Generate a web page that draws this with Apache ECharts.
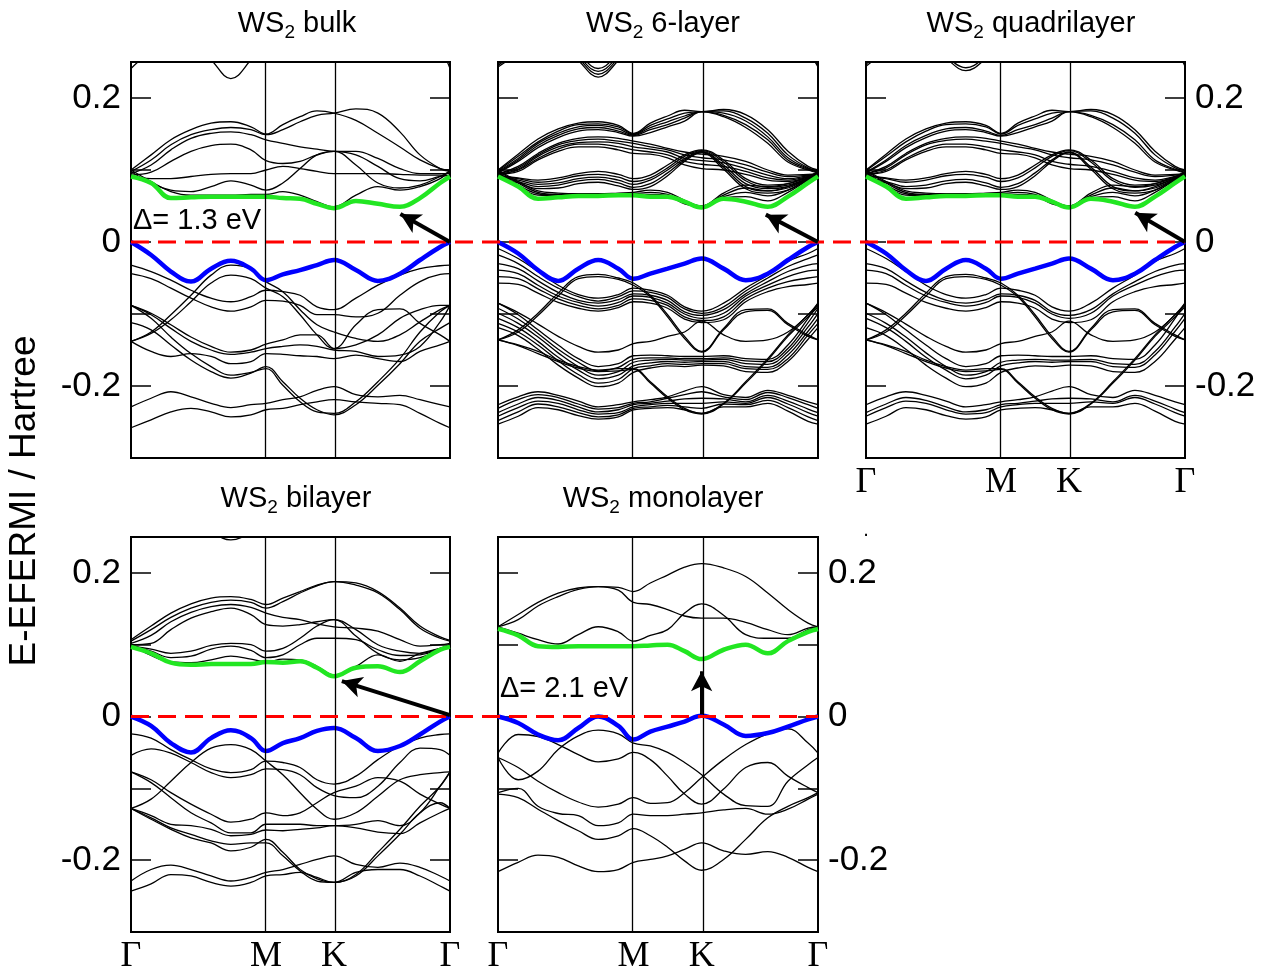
<!DOCTYPE html>
<html><head><meta charset="utf-8">
<script src="https://cdn.jsdelivr.net/npm/echarts@6/dist/echarts.min.js"></script>
<style>html,body{margin:0;padding:0;background:#fff}#c{width:1278px;height:977px}</style>
</head><body><div id="c"></div>
<script>
// k-path sample points (fraction of path Γ-M-K-Γ)
const K_PTS = [0, 0.063, 0.125, 0.188, 0.251, 0.313, 0.376, 0.4232, 0.476, 0.53, 0.583, 0.6364, 0.705, 0.774, 0.843, 0.906, 0.969, 1];
const X_TICKS = [0, 0.4232, 0.6364, 1];
const X_TICK_LABELS = ['Γ', 'M', 'K', 'Γ'];
const Y_LABELED = [0.2, 0, -0.2];
const PANEL_NAMES = ['bulk', '6-layer', 'quadrilayer', 'bilayer', 'monolayer'];
const GAP_LABELS = ['Δ= 1.3 eV', 'Δ= 2.1 eV'];

// ---------- bulk ----------
const BULK_GREEN = [0.091, 0.082, 0.061, 0.062, 0.063, 0.063, 0.063, 0.063, 0.061, 0.060, 0.053, 0.047, 0.057, 0.053, 0.049, 0.061, 0.082, 0.091];
const BULK_BLUE = [0, -0.018, -0.041, -0.055, -0.037, -0.026, -0.037, -0.053, -0.045, -0.039, -0.032, -0.025, -0.039, -0.054, -0.044, -0.025, -0.007, 0];
const BULK_TOP = [0.241, 0.265, 0.28, 0.28, 0.253, 0.227, 0.253, 0.28, 0.29, 0.295, 0.3, 0.3, 0.3, 0.295, 0.29, 0.28, 0.265, 0.241];
const BULK_C1 = [0.100, 0.121, 0.142, 0.156, 0.165, 0.167, 0.160, 0.150, 0.163, 0.174, 0.182, 0.179, 0.169, 0.151, 0.132, 0.114, 0.102, 0.100];
const BULK_C2 = [0.098, 0.114, 0.135, 0.149, 0.156, 0.159, 0.156, 0.149, 0.156, 0.167, 0.176, 0.179, 0.185, 0.179, 0.153, 0.121, 0.102, 0.098];
const BULK_C3 = [0.095, 0.107, 0.128, 0.144, 0.151, 0.153, 0.149, 0.142, 0.137, 0.132, 0.129, 0.126, 0.126, 0.116, 0.102, 0.095, 0.095, 0.095];
const BULK_C4 = [0.093, 0.097, 0.112, 0.126, 0.134, 0.136, 0.128, 0.113, 0.109, 0.112, 0.121, 0.126, 0.121, 0.105, 0.088, 0.085, 0.091, 0.093];
const BULK_C5 = [0.091, 0.088, 0.088, 0.091, 0.094, 0.095, 0.095, 0.100, 0.105, 0.102, 0.098, 0.095, 0.095, 0.095, 0.094, 0.093, 0.093, 0.091];
const BULK_C6 = [0.098, 0.082, 0.072, 0.070, 0.077, 0.085, 0.079, 0.072, 0.082, 0.102, 0.121, 0.126, 0.107, 0.082, 0.075, 0.079, 0.091, 0.098];
const BULK_C7 = [0.100, 0.084, 0.070, 0.065, 0.065, 0.065, 0.066, 0.066, 0.070, 0.065, 0.056, 0.049, 0.065, 0.077, 0.072, 0.077, 0.088, 0.100];
const BULK_V1 = [-0.032, -0.041, -0.053, -0.067, -0.078, -0.083, -0.076, -0.067, -0.069, -0.074, -0.090, -0.094, -0.078, -0.060, -0.046, -0.037, -0.033, -0.032];
const BULK_V2 = [-0.044, -0.051, -0.064, -0.078, -0.090, -0.096, -0.090, -0.081, -0.082, -0.088, -0.101, -0.101, -0.104, -0.099, -0.074, -0.055, -0.045, -0.044];
const BULK_V3 = [-0.138, -0.125, -0.101, -0.074, -0.046, -0.032, -0.037, -0.055, -0.069, -0.094, -0.115, -0.125, -0.134, -0.138, -0.129, -0.111, -0.094, -0.088];
const BULK_V4 = [-0.138, -0.127, -0.108, -0.083, -0.057, -0.046, -0.051, -0.064, -0.076, -0.101, -0.129, -0.148, -0.143, -0.129, -0.106, -0.094, -0.088, -0.088];
const BULK_V5 = [-0.088, -0.099, -0.115, -0.132, -0.145, -0.153, -0.150, -0.142, -0.136, -0.129, -0.129, -0.148, -0.115, -0.094, -0.093, -0.113, -0.129, -0.138];
const BULK_V6 = [-0.088, -0.101, -0.120, -0.138, -0.150, -0.156, -0.153, -0.148, -0.145, -0.143, -0.145, -0.150, -0.152, -0.159, -0.157, -0.145, -0.111, -0.088];
const BULK_V7 = [-0.138, -0.152, -0.159, -0.155, -0.159, -0.169, -0.166, -0.155, -0.156, -0.158, -0.159, -0.162, -0.157, -0.162, -0.166, -0.152, -0.143, -0.138];
const BULK_V8 = [-0.112, -0.122, -0.143, -0.164, -0.180, -0.189, -0.182, -0.173, -0.194, -0.217, -0.233, -0.240, -0.226, -0.199, -0.169, -0.138, -0.120, -0.112];
const BULK_V9 = [-0.088, -0.106, -0.132, -0.155, -0.173, -0.185, -0.181, -0.176, -0.199, -0.222, -0.236, -0.238, -0.222, -0.194, -0.162, -0.125, -0.097, -0.088];
const BULK_V10 = [-0.229, -0.217, -0.208, -0.215, -0.224, -0.230, -0.226, -0.224, -0.219, -0.215, -0.206, -0.201, -0.212, -0.215, -0.213, -0.219, -0.226, -0.229];
const BULK_V11 = [-0.258, -0.247, -0.236, -0.231, -0.236, -0.243, -0.240, -0.233, -0.231, -0.226, -0.222, -0.219, -0.222, -0.224, -0.226, -0.238, -0.252, -0.258];

// ---------- 6-layer ----------
const SIX_GREEN = [0.091, 0.077, 0.060, 0.062, 0.064, 0.064, 0.065, 0.065, 0.063, 0.063, 0.056, 0.048, 0.060, 0.056, 0.049, 0.063, 0.082, 0.091];
const SIX_BLUE = [0, -0.016, -0.039, -0.054, -0.037, -0.025, -0.037, -0.051, -0.044, -0.037, -0.030, -0.023, -0.037, -0.053, -0.044, -0.025, -0.007, 0];
const SIX_T1 = [0.243, 0.262, 0.28, 0.285, 0.262, 0.241, 0.262, 0.285, 0.29, 0.3, 0.3, 0.3, 0.3, 0.3, 0.29, 0.28, 0.262, 0.243];
const SIX_T2 = [0.245, 0.265, 0.28, 0.283, 0.258, 0.237, 0.258, 0.283, 0.29, 0.3, 0.3, 0.3, 0.3, 0.3, 0.29, 0.28, 0.265, 0.245];
const SIX_T3 = [0.247, 0.268, 0.28, 0.28, 0.255, 0.233, 0.255, 0.28, 0.29, 0.3, 0.3, 0.3, 0.3, 0.3, 0.29, 0.28, 0.268, 0.247];
const SIX_T4 = [0.25, 0.27, 0.28, 0.278, 0.252, 0.229, 0.252, 0.278, 0.29, 0.3, 0.3, 0.3, 0.3, 0.3, 0.29, 0.28, 0.27, 0.25];
const SIX_A1 = [0.100, 0.122, 0.143, 0.157, 0.165, 0.167, 0.162, 0.151, 0.165, 0.175, 0.183, 0.181, 0.184, 0.177, 0.156, 0.126, 0.105, 0.100];
const SIX_A2 = [0.099, 0.119, 0.139, 0.154, 0.163, 0.164, 0.160, 0.150, 0.162, 0.171, 0.179, 0.181, 0.182, 0.172, 0.151, 0.121, 0.103, 0.099];
const SIX_A3 = [0.098, 0.116, 0.137, 0.151, 0.160, 0.162, 0.157, 0.149, 0.159, 0.167, 0.175, 0.181, 0.179, 0.168, 0.146, 0.117, 0.102, 0.098];
const SIX_A4 = [0.097, 0.114, 0.134, 0.148, 0.157, 0.159, 0.154, 0.148, 0.156, 0.163, 0.172, 0.181, 0.176, 0.163, 0.142, 0.114, 0.101, 0.097];
const SIX_A5 = [0.096, 0.112, 0.131, 0.145, 0.154, 0.156, 0.152, 0.147, 0.152, 0.160, 0.168, 0.181, 0.174, 0.159, 0.137, 0.111, 0.100, 0.096];
const SIX_B1 = [0.095, 0.105, 0.123, 0.137, 0.144, 0.146, 0.144, 0.140, 0.136, 0.130, 0.125, 0.122, 0.119, 0.112, 0.100, 0.093, 0.094, 0.095];
const SIX_B2 = [0.095, 0.103, 0.121, 0.135, 0.141, 0.143, 0.140, 0.137, 0.132, 0.128, 0.121, 0.117, 0.114, 0.107, 0.097, 0.091, 0.093, 0.095];
const SIX_B3 = [0.094, 0.101, 0.119, 0.132, 0.138, 0.139, 0.137, 0.132, 0.129, 0.125, 0.116, 0.113, 0.110, 0.102, 0.093, 0.088, 0.092, 0.094];
const SIX_B4 = [0.094, 0.100, 0.116, 0.129, 0.136, 0.136, 0.132, 0.128, 0.125, 0.121, 0.112, 0.108, 0.105, 0.098, 0.089, 0.086, 0.091, 0.094];
const SIX_B5 = [0.094, 0.098, 0.114, 0.126, 0.132, 0.132, 0.128, 0.123, 0.122, 0.117, 0.107, 0.102, 0.100, 0.094, 0.086, 0.084, 0.090, 0.094];
const SIX_C1 = [0.093, 0.089, 0.086, 0.089, 0.095, 0.098, 0.094, 0.088, 0.093, 0.107, 0.121, 0.128, 0.114, 0.088, 0.079, 0.081, 0.089, 0.093];
const SIX_C2 = [0.092, 0.088, 0.083, 0.086, 0.092, 0.094, 0.090, 0.084, 0.089, 0.103, 0.119, 0.127, 0.111, 0.085, 0.076, 0.079, 0.088, 0.092];
const SIX_C3 = [0.091, 0.086, 0.080, 0.082, 0.088, 0.090, 0.086, 0.080, 0.086, 0.100, 0.116, 0.126, 0.107, 0.081, 0.074, 0.077, 0.087, 0.091];
const SIX_C4 = [0.090, 0.084, 0.077, 0.079, 0.085, 0.087, 0.082, 0.076, 0.081, 0.096, 0.114, 0.125, 0.104, 0.077, 0.071, 0.075, 0.087, 0.090];
const SIX_C5 = [0.089, 0.082, 0.074, 0.075, 0.081, 0.083, 0.078, 0.073, 0.077, 0.092, 0.112, 0.124, 0.101, 0.074, 0.068, 0.072, 0.086, 0.089];
const SIX_D1 = [0.100, 0.084, 0.071, 0.068, 0.067, 0.067, 0.068, 0.069, 0.072, 0.069, 0.058, 0.050, 0.068, 0.079, 0.077, 0.081, 0.091, 0.098];
const SIX_D2 = [0.099, 0.082, 0.069, 0.066, 0.066, 0.066, 0.066, 0.067, 0.069, 0.066, 0.056, 0.050, 0.065, 0.075, 0.071, 0.077, 0.089, 0.097];
const SIX_D3 = [0.097, 0.079, 0.067, 0.065, 0.065, 0.065, 0.065, 0.066, 0.066, 0.064, 0.054, 0.049, 0.063, 0.069, 0.064, 0.072, 0.088, 0.095];
const SIX_D4 = [0.095, 0.077, 0.065, 0.064, 0.064, 0.064, 0.064, 0.065, 0.064, 0.063, 0.053, 0.049, 0.061, 0.063, 0.057, 0.069, 0.086, 0.094];
const SIX_VA1 = [-0.009, -0.023, -0.041, -0.060, -0.073, -0.078, -0.073, -0.064, -0.067, -0.074, -0.090, -0.096, -0.085, -0.064, -0.046, -0.027, -0.016, -0.009];
const SIX_VA2 = [-0.018, -0.030, -0.048, -0.064, -0.076, -0.082, -0.076, -0.068, -0.070, -0.077, -0.093, -0.099, -0.090, -0.068, -0.050, -0.034, -0.023, -0.018];
const SIX_VA3 = [-0.030, -0.037, -0.054, -0.070, -0.081, -0.085, -0.080, -0.072, -0.074, -0.081, -0.097, -0.102, -0.094, -0.072, -0.055, -0.041, -0.032, -0.030];
const SIX_VA4 = [-0.039, -0.044, -0.060, -0.075, -0.084, -0.089, -0.084, -0.075, -0.077, -0.085, -0.100, -0.106, -0.099, -0.075, -0.060, -0.048, -0.040, -0.039];
const SIX_VA5 = [-0.048, -0.051, -0.065, -0.079, -0.088, -0.093, -0.088, -0.079, -0.081, -0.088, -0.104, -0.109, -0.104, -0.079, -0.064, -0.055, -0.050, -0.048];
const SIX_VA6 = [-0.057, -0.059, -0.071, -0.084, -0.092, -0.096, -0.091, -0.083, -0.085, -0.092, -0.107, -0.112, -0.108, -0.083, -0.069, -0.062, -0.059, -0.057];
const SIX_VB1 = [-0.136, -0.122, -0.099, -0.071, -0.048, -0.045, -0.050, -0.057, -0.074, -0.101, -0.131, -0.152, -0.120, -0.094, -0.093, -0.113, -0.129, -0.136];
const SIX_VB2 = [-0.136, -0.125, -0.102, -0.075, -0.051, -0.048, -0.052, -0.060, -0.076, -0.104, -0.134, -0.153, -0.122, -0.097, -0.095, -0.115, -0.131, -0.136];
const SIX_VC1 = [-0.085, -0.098, -0.114, -0.131, -0.145, -0.153, -0.150, -0.141, -0.138, -0.131, -0.125, -0.110, -0.129, -0.138, -0.136, -0.125, -0.101, -0.085];
const SIX_VD1 = [-0.085, -0.101, -0.122, -0.143, -0.162, -0.173, -0.169, -0.158, -0.157, -0.158, -0.159, -0.159, -0.158, -0.162, -0.163, -0.143, -0.106, -0.085];
const SIX_VD2 = [-0.092, -0.107, -0.127, -0.149, -0.167, -0.179, -0.174, -0.163, -0.161, -0.161, -0.162, -0.162, -0.161, -0.165, -0.166, -0.148, -0.112, -0.092];
const SIX_VD3 = [-0.099, -0.113, -0.132, -0.154, -0.173, -0.185, -0.180, -0.167, -0.164, -0.163, -0.164, -0.164, -0.163, -0.169, -0.170, -0.152, -0.118, -0.099];
const SIX_VD4 = [-0.106, -0.119, -0.138, -0.160, -0.178, -0.190, -0.185, -0.172, -0.168, -0.166, -0.167, -0.166, -0.166, -0.173, -0.174, -0.157, -0.124, -0.106];
const SIX_VD5 = [-0.113, -0.125, -0.143, -0.165, -0.184, -0.196, -0.191, -0.176, -0.172, -0.169, -0.170, -0.169, -0.169, -0.176, -0.177, -0.162, -0.129, -0.113];
const SIX_VD6 = [-0.119, -0.130, -0.149, -0.171, -0.189, -0.201, -0.196, -0.181, -0.175, -0.172, -0.173, -0.171, -0.172, -0.180, -0.181, -0.166, -0.135, -0.119];
const SIX_VE1 = [-0.136, -0.143, -0.152, -0.164, -0.173, -0.178, -0.176, -0.176, -0.194, -0.215, -0.231, -0.238, -0.224, -0.194, -0.162, -0.129, -0.101, -0.088];
const SIX_VE2 = [-0.136, -0.144, -0.155, -0.166, -0.175, -0.180, -0.179, -0.177, -0.196, -0.217, -0.233, -0.239, -0.225, -0.196, -0.164, -0.131, -0.104, -0.090];
const SIX_VG1 = [-0.226, -0.215, -0.208, -0.213, -0.221, -0.229, -0.226, -0.222, -0.219, -0.215, -0.207, -0.201, -0.212, -0.216, -0.206, -0.213, -0.222, -0.226];
const SIX_VG2 = [-0.231, -0.219, -0.212, -0.216, -0.225, -0.232, -0.230, -0.224, -0.222, -0.217, -0.212, -0.208, -0.215, -0.219, -0.209, -0.216, -0.226, -0.231];
const SIX_VG3 = [-0.237, -0.225, -0.216, -0.220, -0.229, -0.236, -0.233, -0.226, -0.224, -0.221, -0.218, -0.217, -0.218, -0.222, -0.213, -0.221, -0.232, -0.237];
const SIX_VG4 = [-0.242, -0.230, -0.221, -0.224, -0.233, -0.239, -0.237, -0.229, -0.226, -0.224, -0.224, -0.224, -0.222, -0.224, -0.216, -0.225, -0.237, -0.242];
const SIX_VG5 = [-0.248, -0.236, -0.225, -0.229, -0.237, -0.243, -0.240, -0.231, -0.229, -0.227, -0.229, -0.231, -0.225, -0.226, -0.220, -0.230, -0.243, -0.248];
const SIX_VG6 = [-0.253, -0.242, -0.230, -0.233, -0.241, -0.246, -0.243, -0.233, -0.231, -0.230, -0.233, -0.238, -0.229, -0.229, -0.224, -0.235, -0.249, -0.253];

// ---------- quadrilayer (bundles of 4; many bands coincide with 6-layer ones) ----------
const QUAD_T1 = [0.244, 0.265, 0.28, 0.28, 0.258, 0.242, 0.258, 0.28, 0.29, 0.3, 0.3, 0.3, 0.3, 0.3, 0.29, 0.28, 0.265, 0.244];
const QUAD_T2 = [0.247, 0.268, 0.28, 0.278, 0.255, 0.238, 0.255, 0.278, 0.29, 0.3, 0.3, 0.3, 0.3, 0.3, 0.29, 0.28, 0.268, 0.247];

// ---------- bilayer ----------
const BIL_GREEN = [0.097, 0.088, 0.075, 0.072, 0.073, 0.073, 0.073, 0.076, 0.075, 0.077, 0.068, 0.056, 0.068, 0.070, 0.062, 0.077, 0.093, 0.097];
const BIL_BLUE = [0, -0.013, -0.037, -0.050, -0.030, -0.019, -0.030, -0.048, -0.037, -0.030, -0.020, -0.016, -0.030, -0.048, -0.041, -0.025, -0.007, 0];
const BIL_TOP = [0.27, 0.29, 0.29, 0.28, 0.258, 0.246, 0.258, 0.28, 0.29, 0.3, 0.3, 0.3, 0.3, 0.3, 0.29, 0.29, 0.28, 0.27];
const BIL_C1 = [0.107, 0.126, 0.144, 0.157, 0.165, 0.167, 0.163, 0.156, 0.165, 0.174, 0.183, 0.188, 0.183, 0.172, 0.149, 0.123, 0.109, 0.105];
const BIL_C2 = [0.105, 0.121, 0.138, 0.151, 0.159, 0.162, 0.159, 0.151, 0.160, 0.172, 0.182, 0.188, 0.186, 0.174, 0.151, 0.126, 0.111, 0.106];
const BIL_C3 = [0.102, 0.113, 0.132, 0.145, 0.153, 0.156, 0.152, 0.144, 0.138, 0.135, 0.129, 0.125, 0.123, 0.119, 0.107, 0.098, 0.100, 0.102];
const BIL_C4 = [0.100, 0.102, 0.121, 0.137, 0.146, 0.151, 0.142, 0.128, 0.126, 0.128, 0.132, 0.135, 0.121, 0.100, 0.091, 0.088, 0.095, 0.100];
const BIL_C5 = [0.098, 0.094, 0.088, 0.091, 0.099, 0.102, 0.100, 0.091, 0.095, 0.109, 0.126, 0.135, 0.112, 0.088, 0.079, 0.082, 0.093, 0.098];
const BIL_C6 = [0.099, 0.091, 0.082, 0.084, 0.094, 0.098, 0.092, 0.082, 0.086, 0.100, 0.109, 0.109, 0.107, 0.093, 0.085, 0.086, 0.094, 0.099];
const BIL_C7 = [0.100, 0.085, 0.076, 0.075, 0.079, 0.084, 0.080, 0.076, 0.080, 0.079, 0.070, 0.058, 0.070, 0.086, 0.077, 0.088, 0.095, 0.100];
const BIL_V1 = [-0.024, -0.030, -0.046, -0.060, -0.073, -0.078, -0.074, -0.062, -0.064, -0.071, -0.088, -0.094, -0.083, -0.060, -0.041, -0.030, -0.025, -0.024];
const BIL_V2 = [-0.054, -0.045, -0.051, -0.064, -0.078, -0.085, -0.081, -0.073, -0.074, -0.081, -0.099, -0.110, -0.113, -0.097, -0.064, -0.044, -0.046, -0.054];
const BIL_V3 = [-0.128, -0.115, -0.090, -0.064, -0.044, -0.039, -0.046, -0.062, -0.081, -0.106, -0.129, -0.143, -0.134, -0.111, -0.088, -0.081, -0.078, -0.077];
const BIL_V4 = [-0.077, -0.088, -0.106, -0.122, -0.136, -0.147, -0.143, -0.134, -0.138, -0.134, -0.120, -0.106, -0.097, -0.085, -0.090, -0.108, -0.122, -0.128];
const BIL_V5 = [-0.077, -0.092, -0.113, -0.134, -0.148, -0.162, -0.162, -0.150, -0.150, -0.150, -0.152, -0.152, -0.150, -0.145, -0.152, -0.134, -0.097, -0.077];
const BIL_V6 = [-0.128, -0.138, -0.150, -0.152, -0.157, -0.166, -0.164, -0.158, -0.159, -0.157, -0.155, -0.152, -0.155, -0.161, -0.163, -0.148, -0.134, -0.128];
const BIL_V7 = [-0.128, -0.143, -0.157, -0.169, -0.176, -0.187, -0.182, -0.171, -0.189, -0.213, -0.226, -0.231, -0.220, -0.189, -0.157, -0.125, -0.097, -0.077];
const BIL_V8 = [-0.128, -0.141, -0.155, -0.164, -0.173, -0.178, -0.176, -0.176, -0.194, -0.215, -0.229, -0.231, -0.222, -0.194, -0.164, -0.134, -0.120, -0.128];
const BIL_V9 = [-0.229, -0.213, -0.207, -0.213, -0.222, -0.229, -0.224, -0.217, -0.213, -0.206, -0.199, -0.194, -0.206, -0.210, -0.204, -0.210, -0.222, -0.229];
const BIL_V10 = [-0.243, -0.233, -0.220, -0.222, -0.231, -0.236, -0.231, -0.222, -0.220, -0.217, -0.224, -0.231, -0.217, -0.213, -0.213, -0.222, -0.236, -0.243];

// ---------- monolayer ----------
const MONO_GREEN = [0.122, 0.113, 0.098, 0.097, 0.098, 0.098, 0.098, 0.098, 0.099, 0.100, 0.091, 0.080, 0.093, 0.100, 0.088, 0.105, 0.118, 0.122];
const MONO_BLUE = [0, -0.009, -0.025, -0.033, -0.016, 0.000, -0.013, -0.032, -0.021, -0.014, -0.007, 0.001, -0.011, -0.027, -0.023, -0.014, -0.004, 0];
const MONO_C1 = [0.125, 0.116, 0.107, 0.101, 0.114, 0.125, 0.118, 0.105, 0.113, 0.121, 0.144, 0.157, 0.141, 0.114, 0.109, 0.109, 0.121, 0.125];
const MONO_C2 = [0.125, 0.135, 0.154, 0.167, 0.177, 0.181, 0.176, 0.159, 0.156, 0.149, 0.140, 0.137, 0.137, 0.131, 0.121, 0.114, 0.123, 0.125];
const MONO_C3 = [0.125, 0.142, 0.159, 0.172, 0.179, 0.181, 0.180, 0.174, 0.186, 0.197, 0.208, 0.213, 0.207, 0.195, 0.172, 0.149, 0.130, 0.125];
const MONO_V1 = [-0.051, -0.025, -0.028, -0.039, -0.053, -0.063, -0.059, -0.050, -0.060, -0.083, -0.108, -0.122, -0.101, -0.071, -0.064, -0.083, -0.099, -0.106];
const MONO_V2 = [-0.057, -0.088, -0.076, -0.046, -0.027, -0.019, -0.024, -0.037, -0.041, -0.050, -0.064, -0.081, -0.108, -0.124, -0.125, -0.090, -0.067, -0.057];
const MONO_V3 = [-0.057, -0.071, -0.090, -0.106, -0.119, -0.126, -0.122, -0.113, -0.121, -0.120, -0.106, -0.085, -0.060, -0.039, -0.024, -0.017, -0.037, -0.051];
const MONO_V4 = [-0.106, -0.100, -0.125, -0.135, -0.138, -0.152, -0.148, -0.136, -0.138, -0.138, -0.136, -0.134, -0.130, -0.128, -0.136, -0.129, -0.115, -0.108];
const MONO_V5 = [-0.108, -0.113, -0.129, -0.145, -0.159, -0.171, -0.166, -0.156, -0.166, -0.182, -0.201, -0.214, -0.199, -0.171, -0.141, -0.125, -0.113, -0.106];
const MONO_V6 = [-0.216, -0.203, -0.193, -0.196, -0.208, -0.216, -0.213, -0.203, -0.199, -0.194, -0.185, -0.176, -0.187, -0.192, -0.188, -0.196, -0.210, -0.216];

// gap arrows: [tail (k, E), head (k, E)]
const GAP_ARROWS = [
  [[1, 0], [0.8445, 0.039]],
  [[1, 0], [0.837, 0.038]],
  [[1, 0], [0.844, 0.0405]],
  [[1, 0.002], [0.661, 0.0494]],
  [[0.6364, 0.003], [0.6364, 0.063]]
];

const PANELS = [
  { black: [BULK_TOP, BULK_C1, BULK_C2, BULK_C3, BULK_C4, BULK_C5, BULK_C6, BULK_C7, BULK_V1, BULK_V2, BULK_V3, BULK_V4, BULK_V5, BULK_V6, BULK_V7, BULK_V8, BULK_V9, BULK_V10, BULK_V11],
    green: BULK_GREEN, blue: BULK_BLUE, yLeft: true, yRight: false, xLab: false },
  { black: [SIX_T1, SIX_T2, SIX_T3, SIX_T4, SIX_A1, SIX_A2, SIX_A3, SIX_A4, SIX_A5, SIX_B1, SIX_B2, SIX_B3, SIX_B4, SIX_B5, SIX_C1, SIX_C2, SIX_C3, SIX_C4, SIX_C5, SIX_D1, SIX_D2, SIX_D3, SIX_D4,
            SIX_VA1, SIX_VA2, SIX_VA3, SIX_VA4, SIX_VA5, SIX_VA6, SIX_VB1, SIX_VB2, SIX_VC1, SIX_VD1, SIX_VD2, SIX_VD3, SIX_VD4, SIX_VD5, SIX_VD6, SIX_VE1, SIX_VE2, SIX_VG1, SIX_VG2, SIX_VG3, SIX_VG4, SIX_VG5, SIX_VG6],
    green: SIX_GREEN, blue: SIX_BLUE, yLeft: false, yRight: false, xLab: false },
  { black: [QUAD_T1, QUAD_T2, SIX_A1, SIX_A2, SIX_A4, SIX_A5, SIX_B1, SIX_B2, SIX_B4, SIX_B5, SIX_C1, SIX_C2, SIX_C4, SIX_C5, SIX_D1, SIX_D2, SIX_D3, SIX_D4,
            SIX_VA1, SIX_VA3, SIX_VA4, SIX_VA6, SIX_VB1, SIX_VB2, SIX_VC1, SIX_VD1, SIX_VD3, SIX_VD4, SIX_VD6, SIX_VE1, SIX_VE2, SIX_VG1, SIX_VG3, SIX_VG4, SIX_VG6],
    green: SIX_GREEN, blue: SIX_BLUE, yLeft: false, yRight: true, xLab: true },
  { black: [BIL_TOP, BIL_C1, BIL_C2, BIL_C3, BIL_C4, BIL_C5, BIL_C6, BIL_C7, BIL_V1, BIL_V2, BIL_V3, BIL_V4, BIL_V5, BIL_V6, BIL_V7, BIL_V8, BIL_V9, BIL_V10],
    green: BIL_GREEN, blue: BIL_BLUE, yLeft: true, yRight: false, xLab: true },
  { black: [MONO_C1, MONO_C2, MONO_C3, MONO_V1, MONO_V2, MONO_V3, MONO_V4, MONO_V5, MONO_V6],
    green: MONO_GREEN, blue: MONO_BLUE, yLeft: false, yRight: true, xLab: true }
];

// layout (pixels)
const GRID_POS = [
  { left: 131, top: 62, width: 319, height: 396 },
  { left: 498, top: 62, width: 320, height: 396 },
  { left: 866, top: 62, width: 319, height: 396 },
  { left: 131, top: 537, width: 319, height: 395 },
  { left: 498, top: 537, width: 320, height: 395 }
];
const TITLE_POS = [[292, 1], [658, 1], [1026, 1], [291, 476], [658, 476]];

const SANS = '"Liberation Sans", Arial, Helvetica, sans-serif';
const SERIF = '"Liberation Serif", "Times New Roman", serif';
const toData = arr => K_PTS.map((k, i) => [k, arr[i]]);
const yFmt = v => { for (const t of Y_LABELED) if (Math.abs(v - t) < 1e-6) return String(t); return ''; };
const xFmt = v => { let best = 0; X_TICKS.forEach((t, i) => { if (Math.abs(v - t) < Math.abs(v - X_TICKS[best])) best = i; }); return X_TICK_LABELS[best]; };

const grid = [], xAxis = [], yAxis = [], series = [];
function yAx(gi, pos, show) {
  return { gridIndex: gi, type: 'value', position: pos, min: -0.3, max: 0.25, interval: 0.1,
    axisLine: { show: false }, splitLine: { show: false },
    axisTick: { show: true, inside: true, length: 20, lineStyle: { color: '#000', width: 1.5 } },
    axisLabel: { show: show, margin: 10, fontSize: 35, fontFamily: SANS, color: '#000', formatter: yFmt,
      showMinLabel: false, showMaxLabel: false } };
}
PANELS.forEach((p, i) => {
  grid.push(Object.assign({ show: true, borderColor: '#000', borderWidth: 2, backgroundColor: 'rgba(0,0,0,0)' }, GRID_POS[i]));
  xAxis.push({ gridIndex: i, type: 'value', min: 0, max: 1,
    axisLine: { show: false }, axisTick: { show: false }, splitLine: { show: false },
    axisLabel: { show: p.xLab, customValues: X_TICKS, formatter: xFmt, fontFamily: SERIF, fontSize: 36,
      color: '#000', margin: 7, showMinLabel: true, showMaxLabel: true, hideOverlap: false } });
  yAxis.push(yAx(i, 'left', p.yLeft));
  yAxis.push(yAx(i, 'right', p.yRight));
  p.black.forEach((arr, j) => {
    const s = { type: 'line', xAxisIndex: i, yAxisIndex: 2 * i, data: toData(arr), symbol: 'none', showSymbol: false,
      smooth: 0.4, clip: true, silent: true, z: 2, lineStyle: { color: '#000', width: 1.3 } };
    if (j === 0) s.markLine = { silent: true, symbol: 'none', animation: false, label: { show: false },
      lineStyle: { color: '#000', width: 1.3, type: 'solid' }, data: [{ xAxis: X_TICKS[1] }, { xAxis: X_TICKS[2] }] };
    series.push(s);
  });
  series.push({ type: 'line', xAxisIndex: i, yAxisIndex: 2 * i, data: toData(p.blue), symbol: 'none', showSymbol: false,
    smooth: 0.4, clip: true, silent: true, z: 3, lineStyle: { color: '#0000ff', width: 4.5 } });
  series.push({ type: 'line', xAxisIndex: i, yAxisIndex: 2 * i, data: toData(p.green), symbol: 'none', showSymbol: false,
    smooth: 0.4, clip: true, silent: true, z: 3, lineStyle: { color: '#22e622', width: 4.5 },
    markLine: { silent: true, animation: false, symbol: ['none', 'arrow'], symbolSize: [16, 20], label: { show: false },
      lineStyle: { color: '#000', width: 4, type: 'solid' }, z: 6,
      data: [[{ coord: GAP_ARROWS[i][0] }, { coord: GAP_ARROWS[i][1] }]] } });
});
// overlay grids for the Fermi-level dashed lines spanning each row
[{ left: 131, top: 62, width: 1054, height: 396 }, { left: 131, top: 537, width: 687, height: 395 }].forEach((g, r) => {
  const gi = 5 + r;
  grid.push(Object.assign({ show: false }, g));
  xAxis.push({ gridIndex: gi, type: 'value', min: 0, max: 1, show: false });
  yAxis.push({ gridIndex: gi, type: 'value', min: -0.3, max: 0.25, show: false });
  series.push({ type: 'line', xAxisIndex: gi, yAxisIndex: yAxis.length - 1, data: [[0, 0], [1, 0]], symbol: 'none',
    showSymbol: false, silent: true, z: 5, lineStyle: { color: '#ff0000', width: 3, type: [18, 9] } });
});

const title = PANEL_NAMES.map((n, i) => ({
  text: 'WS{s|2} ' + n, left: TITLE_POS[i][0], top: TITLE_POS[i][1], textAlign: 'center',
  textStyle: { fontSize: 29, fontWeight: 'normal', fontFamily: SANS, color: '#000',
    rich: { s: { fontSize: 19, fontFamily: SANS, color: '#000', padding: [17, 0, 0, 0] } } }
}));

const graphic = [
  { type: 'text', x: 25, y: 501, rotation: Math.PI / 2,
    style: { text: 'E-EFERMI / Hartree', font: '37px ' + SANS, fill: '#000', textAlign: 'center', textVerticalAlign: 'middle' } },
  { type: 'text', x: 133, y: 221, z: 10,
    style: { text: GAP_LABELS[0], font: '29px ' + SANS, fill: '#000', textAlign: 'left', textVerticalAlign: 'middle' } },
  { type: 'text', x: 500, y: 689, z: 10,
    style: { text: GAP_LABELS[1], font: '29px ' + SANS, fill: '#000', textAlign: 'left', textVerticalAlign: 'middle' } },
  { type: 'text', x: 866, y: 530,
    style: { text: '.', font: '20px ' + SANS, fill: '#000', textAlign: 'center', textVerticalAlign: 'middle' } }
];

const chart = echarts.init(document.getElementById('c'), null, { renderer: 'canvas' });
chart.setOption({ animation: false, backgroundColor: '#fff', title, grid, xAxis, yAxis, series, graphic });
</script>
</body></html>
